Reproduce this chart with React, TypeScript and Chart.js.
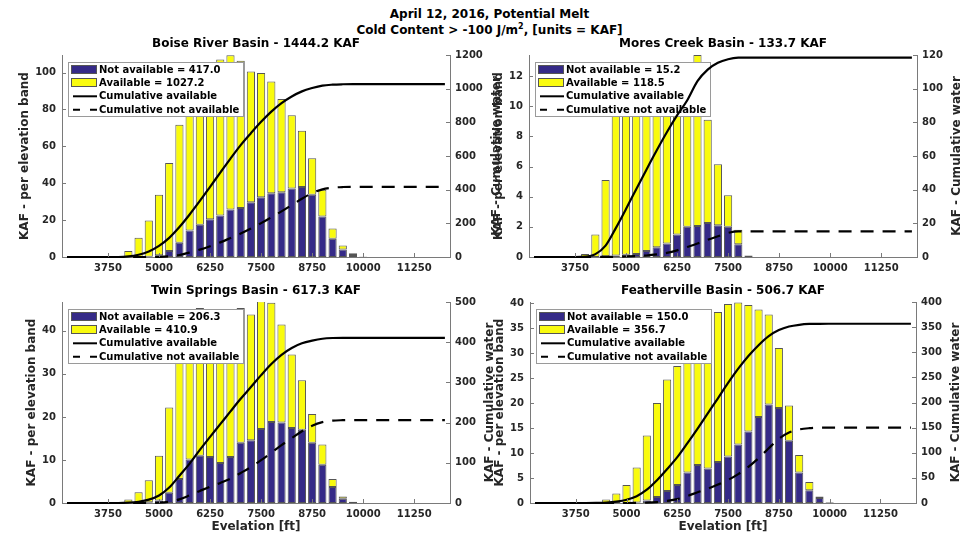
import React, { useEffect, useRef } from "react";
import { Chart, registerables } from "chart.js";

Chart.register(...registerables);

const W = 974;
const H = 539;

// ---------------- data ----------------
const ELEVATION_FT = [
  2750, 3000, 3250, 3500, 3750, 4000, 4250, 4500, 4750, 5000,
  5250, 5500, 5750, 6000, 6250, 6500, 6750, 7000, 7250, 7500,
  7750, 8000, 8250, 8500, 8750, 9000, 9250, 9500, 9750, 10000,
  10250, 10500, 10750, 11000, 11250, 11500, 11750, 12000,
];

const X_TICKS = [3750, 5000, 6250, 7500, 8750, 10000, 11250];

const BASIN_NAMES = ["Boise River Basin", "Mores Creek Basin", "Twin Springs Basin", "Featherville Basin"];
const BASIN_TOTALS = [1444.2, 133.7, 617.3, 506.7];
const NOT_AVAILABLE_TOTALS = [417.0, 15.2, 206.3, 150.0];
const AVAILABLE_TOTALS = [1027.2, 118.5, 410.9, 356.7];

const LEFT_MAX = [109.5, 13.4, 46.7, 40.2];
const LEFT_STEP = [20, 2, 10, 5];
const RIGHT_MAX = [1200, 120, 500, 400];
const RIGHT_STEP = [200, 20, 100, 50];

const BOISE_AVAILABLE = [
  0, 0, 0, 0, 0, 0,
  3.2, 10.5, 19.6, 32.8, 47.8, 64.0, 74.6, 80.5, 83.6, 84.5, 83.6, 79.9, 70.8, 67.4,
  60.5, 50.5, 39.7, 30.5, 19.8, 14.5, 5.6, 2.3, 0.9, 0.1,
  0, 0, 0, 0, 0, 0, 0, 0,
];
const BOISE_NOT_AVAILABLE = [
  0, 0, 0, 0, 0, 0,
  0, 0, 0.2, 0.9, 3.2, 7.7, 14.4, 17.5, 20.4, 22.5, 25.8, 26.5, 29.7, 32.4,
  34.6, 35.1, 37.2, 38.0, 33.7, 22.0, 9.9, 4.0, 1.1, 0.2,
  0, 0, 0, 0, 0, 0, 0, 0,
];

const MORES_AVAILABLE = [
  0, 0, 0, 0, 0,
  0.2, 1.5, 5.05, 10.4, 11.35, 11.8, 11.6, 11.35, 10.85, 10.0, 9.0, 11.35, 6.85, 4.05, 2.1, 0.95, 0.1,
  0, 0, 0, 0, 0, 0, 0, 0, 0, 0, 0, 0, 0, 0, 0, 0,
];
const MORES_NOT_AVAILABLE = [
  0, 0, 0, 0, 0,
  0, 0, 0.05, 0.1, 0.15, 0.2, 0.4, 0.65, 0.9, 1.5, 2.0, 2.05, 2.25, 2.1, 2.0, 0.85, 0,
  0, 0, 0, 0, 0, 0, 0, 0, 0, 0, 0, 0, 0, 0, 0, 0,
];

const TWIN_AVAILABLE = [
  0, 0, 0, 0, 0, 0,
  0.8, 2.4, 5.1, 10.4, 19.8, 29.4, 29.9, 34.3, 32.3, 31.7, 31.8, 31.3, 29.2, 29.7,
  27.7, 22.8, 17.1, 11.5, 6.7, 4.7, 1.9, 0.5, 0.0,
  0, 0, 0, 0, 0, 0, 0, 0, 0,
];
const TWIN_NOT_AVAILABLE = [
  0, 0, 0, 0, 0, 0,
  0, 0.1, 0.2, 0.6, 2.4, 5.6, 10.1, 11.0, 10.7, 9.3, 10.7, 14.0, 14.6, 17.2,
  18.8, 18.7, 17.4, 17.0, 14.0, 8.9, 3.7, 1.0, 0.3,
  0, 0, 0, 0, 0, 0, 0, 0, 0,
];

const FEATHER_AVAILABLE = [
  0, 0, 0, 0, 0, 0,
  0.2, 0.7, 1.9, 3.6, 7.0, 13.0, 18.8, 22.3, 23.8, 27.9, 28.9, 30.3, 30.0, 30.5,
  28.4, 25.3, 21.5, 18.0, 12.0, 7.05, 3.5, 1.65, 0.3, 0.1,
  0, 0, 0, 0, 0, 0, 0, 0,
];
const FEATHER_NOT_AVAILABLE = [
  0, 0, 0, 0, 0, 0,
  0, 0, 0, 0, 0.1, 0.5, 1.2, 2.4, 3.6, 6.1, 7.6, 6.9, 8.2, 9.3,
  11.7, 14.3, 17.2, 19.7, 19.0, 12.45, 6.1, 2.55, 1.0, 0.1,
  0, 0, 0, 0, 0, 0, 0, 0,
];

const SERIES_AVAILABLE = [BOISE_AVAILABLE, MORES_AVAILABLE, TWIN_AVAILABLE, FEATHER_AVAILABLE];
const SERIES_NOT_AVAILABLE = [BOISE_NOT_AVAILABLE, MORES_NOT_AVAILABLE, TWIN_NOT_AVAILABLE, FEATHER_NOT_AVAILABLE];

// ---------------- styles / layout ----------------
const BLUE = "#352a87";
const YELLOW = "#f9fb0e";
const BAR_EDGE = "#555555";
const AXIS_COLOR = "#7a7a7a";
const TEXT_COLOR = "#262626";
const FONT_FAMILY = '"DejaVu Sans", "Liberation Sans", sans-serif';
const TICK_FONT = { family: FONT_FAMILY, size: 10, weight: "bold" as const };
const LABEL_FONT_CSS = `bold 12px ${FONT_FAMILY}`;
const LEGEND_FONT_CSS = `bold 10px ${FONT_FAMILY}`;

const PANEL_BOXES = [
  { left: 62, top: 55, right: 450, bottom: 257 },
  { left: 529, top: 55, right: 917, bottom: 257 },
  { left: 62, top: 302, right: 450, bottom: 503 },
  { left: 530, top: 302, right: 916, bottom: 503 },
];

const Y_SCALE_W = 40;
const X_SCALE_H = 20;
const TITLE_BLOCK_H = 12 * 1.2 + 4;

function cumulative(values: number[]): number[] {
  let s = 0;
  return values.map((v) => (s += v));
}

function toPoints(values: number[]) {
  return ELEVATION_FT.map((x, i) => ({ x, y: values[i] }));
}

function maxLabelWidth(ctx: CanvasRenderingContext2D, scale: any): number {
  ctx.save();
  ctx.font = `bold 10px ${FONT_FAMILY}`;
  let m = 0;
  for (const t of scale.ticks) {
    const w = ctx.measureText(String(t.label)).width;
    if (w > m) m = w;
  }
  ctx.restore();
  return m;
}

function drawLegend(chart: any, p: number) {
  const ctx: CanvasRenderingContext2D = chart.ctx;
  const a = chart.chartArea;
  const x0 = Math.round(a.left + 6);
  const y0 = Math.round(a.top + 7);
  const entries = [
    `Not available = ${NOT_AVAILABLE_TOTALS[p].toFixed(1)}`,
    `Available = ${AVAILABLE_TOTALS[p].toFixed(1)}`,
    "Cumulative available",
    "Cumulative not available",
  ];
  ctx.save();
  ctx.font = LEGEND_FONT_CSS;
  const tw = Math.max(...entries.map((t) => ctx.measureText(t).width));
  const w = Math.round(31 + tw + 5);
  const h = 55;
  ctx.fillStyle = "#ffffff";
  ctx.fillRect(x0, y0, w, h);
  ctx.strokeStyle = "#9a9a9a";
  ctx.lineWidth = 1;
  ctx.strokeRect(x0 + 0.5, y0 + 0.5, w - 1, h - 1);
  entries.forEach((text, i) => {
    const cy = y0 + 7.5 + i * 13.4;
    if (i < 2) {
      ctx.fillStyle = i === 0 ? BLUE : YELLOW;
      ctx.fillRect(x0 + 3, Math.round(cy - 4.5), 26, 9);
      ctx.strokeStyle = BAR_EDGE;
      ctx.lineWidth = 1;
      ctx.strokeRect(x0 + 3.5, Math.round(cy - 4.5) + 0.5, 25, 8);
    } else {
      ctx.strokeStyle = "#000";
      ctx.lineWidth = 2;
      ctx.setLineDash(i === 3 ? [7, 10] : []);
      ctx.beginPath();
      ctx.moveTo(x0 + 5, cy);
      ctx.lineTo(x0 + 29, cy);
      ctx.stroke();
      ctx.setLineDash([]);
    }
    ctx.fillStyle = "#000";
    ctx.textAlign = "left";
    ctx.textBaseline = "middle";
    ctx.fillText(text, x0 + 31, cy + 0.5);
  });
  ctx.restore();
}

function drawInwardTicks(chart: any) {
  const ctx: CanvasRenderingContext2D = chart.ctx;
  const a = chart.chartArea;
  const { x, y, y2 } = chart.scales;
  ctx.save();
  ctx.strokeStyle = AXIS_COLOR;
  ctx.lineWidth = 1;
  ctx.beginPath();
  for (const t of x.ticks) {
    const px = Math.round(x.getPixelForValue(t.value)) + 0.5;
    ctx.moveTo(px, a.bottom);
    ctx.lineTo(px, a.bottom - 4);
  }
  for (const t of y.ticks) {
    const py = Math.round(y.getPixelForValue(t.value)) + 0.5;
    ctx.moveTo(a.left, py);
    ctx.lineTo(a.left + 4, py);
  }
  for (const t of y2.ticks) {
    const py = Math.round(y2.getPixelForValue(t.value)) + 0.5;
    ctx.moveTo(a.right, py);
    ctx.lineTo(a.right - 4, py);
  }
  ctx.stroke();
  ctx.restore();
}

function drawRotated(ctx: CanvasRenderingContext2D, text: string, cx: number, cy: number) {
  ctx.save();
  ctx.translate(cx, cy);
  ctx.rotate(-Math.PI / 2);
  ctx.textAlign = "center";
  ctx.textBaseline = "middle";
  ctx.fillText(text, 0, 0);
  ctx.restore();
}

function drawAxisTitles(chart: any, p: number) {
  const ctx: CanvasRenderingContext2D = chart.ctx;
  const a = chart.chartArea;
  const leftW = maxLabelWidth(ctx, chart.scales.y);
  const rightW = maxLabelWidth(ctx, chart.scales.y2);
  ctx.save();
  ctx.font = LABEL_FONT_CSS;
  ctx.fillStyle = TEXT_COLOR;
  const cy = (a.top + a.bottom) / 2;
  drawRotated(ctx, "KAF - per elevation band", a.left - 16 - leftW, cy);
  drawRotated(ctx, "KAF - Cumulative water", a.right + 19 + rightW, cy);
  if (p >= 2) {
    ctx.textAlign = "center";
    ctx.textBaseline = "middle";
    ctx.fillText("Evelation [ft]", (a.left + a.right) / 2, a.bottom + 24);
  }
  ctx.restore();
}

function makeConfig(p: number): any {
  const box = PANEL_BOXES[p];
  const avail = SERIES_AVAILABLE[p];
  const notAvail = SERIES_NOT_AVAILABLE[p];
  const tickCommon = {
    font: TICK_FONT,
    color: TEXT_COLOR,
    autoSkip: false,
    maxRotation: 0,
    callback: (v: any) => String(v),
  };
  const noGrid = { display: false, drawTicks: false, drawOnChartArea: false };
  return {
    type: "bar",
    data: {
      datasets: [
        {
          type: "line",
          label: "Cumulative available",
          data: toPoints(cumulative(avail)),
          yAxisID: "y2",
          borderColor: "#000",
          borderWidth: 2.2,
          pointRadius: 0,
          cubicInterpolationMode: "monotone",
          fill: false,
          clip: false,
        },
        {
          type: "line",
          label: "Cumulative not available",
          data: toPoints(cumulative(notAvail)),
          yAxisID: "y2",
          borderColor: "#000",
          borderWidth: 2.2,
          borderDash: [13, 9],
          pointRadius: 0,
          cubicInterpolationMode: "monotone",
          fill: false,
          clip: false,
        },
        {
          type: "bar",
          label: "Not available",
          data: toPoints(notAvail),
          yAxisID: "y",
          stack: "kaf",
          backgroundColor: BLUE,
          borderColor: BAR_EDGE,
          borderWidth: 1,
          borderSkipped: false,
          barPercentage: 0.8,
          categoryPercentage: 1.0,
        },
        {
          type: "bar",
          label: "Available",
          data: toPoints(avail),
          yAxisID: "y",
          stack: "kaf",
          backgroundColor: YELLOW,
          borderColor: BAR_EDGE,
          borderWidth: 1,
          borderSkipped: false,
          barPercentage: 0.8,
          categoryPercentage: 1.0,
        },
      ],
    },
    options: {
      responsive: false,
      animation: false,
      devicePixelRatio: 1,
      events: [],
      layout: {
        padding: {
          left: box.left - Y_SCALE_W,
          right: W - box.right - Y_SCALE_W,
          top: box.top - TITLE_BLOCK_H,
          bottom: H - box.bottom - X_SCALE_H,
        },
      },
      plugins: {
        legend: { display: false },
        tooltip: { enabled: false },
        title: {
          display: true,
          text: `${BASIN_NAMES[p]} - ${BASIN_TOTALS[p].toFixed(1)} KAF`,
          color: "#000",
          font: { family: FONT_FAMILY, size: 12, weight: "bold" },
          padding: { top: 0, bottom: 4 },
          fullSize: false,
        },
      },
      scales: {
        x: {
          type: "linear",
          min: 2625,
          max: 12125,
          offset: false,
          stacked: true,
          grid: noGrid,
          border: { display: true, color: AXIS_COLOR, width: 1 },
          ticks: { ...tickCommon, padding: 5 },
          afterBuildTicks: (s: any) => {
            s.ticks = X_TICKS.map((v) => ({ value: v }));
          },
          afterFit: (s: any) => {
            s.height = X_SCALE_H;
          },
        },
        y: {
          type: "linear",
          position: "left",
          min: 0,
          max: LEFT_MAX[p],
          stacked: true,
          grid: noGrid,
          border: { display: true, color: AXIS_COLOR, width: 1 },
          ticks: { ...tickCommon, padding: 6, stepSize: LEFT_STEP[p], includeBounds: false },
          afterFit: (s: any) => {
            s.width = Y_SCALE_W;
          },
        },
        y2: {
          type: "linear",
          position: "right",
          min: 0,
          max: RIGHT_MAX[p],
          grid: noGrid,
          border: { display: true, color: AXIS_COLOR, width: 1 },
          ticks: { ...tickCommon, padding: 5, stepSize: RIGHT_STEP[p], includeBounds: false },
          afterFit: (s: any) => {
            s.width = Y_SCALE_W;
          },
        },
      },
    },
    plugins: [
      {
        id: "matlabOverlay" + p,
        afterDatasetDraw(chart: any, args: any) {
          if (args.index === 2) drawLegend(chart, p);
        },
        afterDraw(chart: any) {
          drawInwardTicks(chart);
          drawAxisTitles(chart, p);
        },
      },
    ],
  };
}

function Panel({ index }: { index: number }) {
  const ref = useRef<HTMLCanvasElement | null>(null);
  useEffect(() => {
    if (!ref.current) return;
    const chart = new Chart(ref.current, makeConfig(index));
    return () => chart.destroy();
  }, [index]);
  return (
    <canvas
      ref={ref}
      width={W}
      height={H}
      style={{ position: "absolute", left: 0, top: 0, width: W, height: H }}
    />
  );
}

export default function App() {
  return (
    <div
      style={{
        position: "fixed",
        left: 0,
        top: 0,
        width: W,
        height: H,
        background: "#ffffff",
        overflow: "hidden",
      }}
    >
      <div
        style={{
          position: "absolute",
          left: 0,
          top: 6,
          width: 979,
          textAlign: "center",
          font: LABEL_FONT_CSS,
          lineHeight: "16px",
          color: "#000",
        }}
      >
        <div>April 12, 2016, Potential Melt</div>
        <div>
          Cold Content &gt; -100 J/m<sup style={{ fontSize: 8, lineHeight: 0 }}>2</sup>, [units = KAF]
        </div>
      </div>
      {[0, 1, 2, 3].map((i) => (
        <Panel key={i} index={i} />
      ))}
    </div>
  );
}
